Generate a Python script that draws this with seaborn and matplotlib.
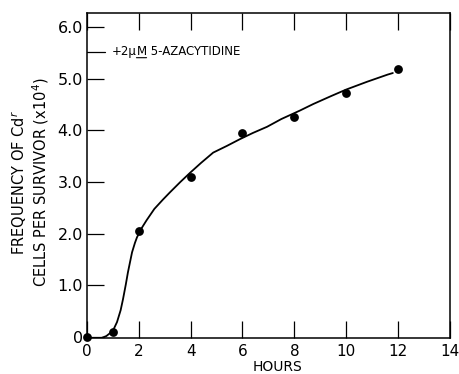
"""Cdr cell frequency after 5-azacytidine treatment."""

import matplotlib
matplotlib.use("Agg")
import matplotlib.pyplot as plt
import pandas as pd
import seaborn as sns

# measured points
point_hours = [0, 1, 2, 4, 6, 8, 10, 12]
point_freq = [0.0, 0.10, 2.05, 3.10, 3.95, 4.26, 4.73, 5.19]

# hand-drawn fitted curve
curve_hours = [0, 0.25, 0.5, 0.75, 1.0, 1.16, 1.3, 1.39, 1.5, 1.58, 1.67, 1.74,
               1.85, 1.93, 2.1, 2.3, 2.6, 2.93, 3.2, 3.6, 3.98, 4.4, 4.87, 5.4,
               5.9, 6.4, 6.95, 7.5, 8.2, 8.73, 9.4, 10.0, 10.8, 11.6, 11.8]
curve_freq = [0.0, -0.03, -0.03, 0.02, 0.12, 0.29, 0.52, 0.73, 1.02, 1.25, 1.47,
              1.64, 1.82, 1.93, 2.1, 2.26, 2.48, 2.66, 2.8, 3.0, 3.18, 3.37, 3.57,
              3.7, 3.83, 3.95, 4.07, 4.22, 4.38, 4.51, 4.66, 4.79, 4.94, 5.08, 5.11]

x_ticks = [0, 2, 4, 6, 8, 10, 12, 14]
y_ticks = [0, 1, 2, 3, 4, 5, 6]
y_tick_labels = ["0", "1.0", "2.0", "3.0", "4.0", "5.0", "6.0"]

legend_level = 5.52

sns.set_theme(style="ticks")
plt.rcParams["font.family"] = ["DejaVu Sans"]
plt.rcParams["text.color"] = "black"
plt.rcParams["axes.labelcolor"] = "black"

fig = plt.figure(figsize=(4.6, 3.74), dpi=100)
ax = fig.add_axes([0.189, 0.096, 0.789, 0.869])

curve = pd.DataFrame({"hours": curve_hours, "freq": curve_freq})
points = pd.DataFrame({"hours": point_hours, "freq": point_freq})

sns.lineplot(data=curve, x="hours", y="freq", color="black", linewidth=1.3,
             sort=False, ax=ax)
sns.scatterplot(data=points, x="hours", y="freq", color="black", s=40,
                edgecolor="black", linewidth=0, zorder=5, clip_on=False, ax=ax)

ax.set_xlim(0, 14)
ax.set_ylim(-0.02, 6.27)

ax.set_xticks(x_ticks)
ax.set_yticks(y_ticks)
ax.set_yticklabels(y_tick_labels)
ax.tick_params(axis="x", direction="in", length=12, width=0.9, pad=4,
               labelsize=11, top=True, colors="black")
ax.tick_params(axis="y", direction="in", length=12, width=0.9, pad=3,
               labelsize=11.5, colors="black")
for spine in ax.spines.values():
    spine.set_visible(True)
    spine.set_linewidth(1.1)
    spine.set_color("black")

ax.set_xlabel("HOURS", fontsize=10, va="top")
ax.xaxis.set_label_coords(0.526, -0.066)
ax.set_ylabel("FREQUENCY OF Cd$^r$\nCELLS PER SURVIVOR (x10$^4$)",
              fontsize=10.5, linespacing=1.1)
ax.yaxis.set_label_coords(-0.098, 0.48)

# legend key: short line from the axis plus label
ax.plot([0, 0.7], [legend_level, legend_level], color="black", linewidth=0.9)
t1 = ax.text(0.95, legend_level, "+2\u03bc", fontsize=8.5, va="center",
             ha="left")
t2 = ax.annotate("M", xy=(1, 0.5), xycoords=t1, va="center", ha="left",
                 fontsize=8.5)
ax.annotate("", xy=(0, 0.05), xycoords=t2, xytext=(1, 0.05), textcoords=t2,
            arrowprops=dict(arrowstyle="-", linewidth=0.8, color="black",
                            shrinkA=0, shrinkB=0))
ax.annotate(" 5-AZACYTIDINE", xy=(1, 0.5), xycoords=t2, va="center",
            ha="left", fontsize=8.5)

fig.savefig("out.png", dpi=100)
